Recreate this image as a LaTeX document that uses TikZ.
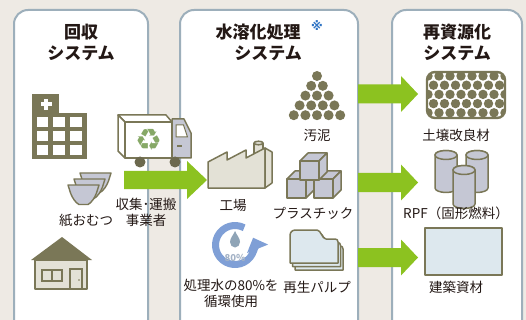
\documentclass[tikz,border=0pt]{standalone}
\usepackage{fontspec}
\setmainfont{Noto Sans CJK JP}
\newfontfamily\symfont{DejaVu Sans}
\usetikzlibrary{arrows.meta}

\definecolor{bg}{HTML}{EEEAE4}
\definecolor{frame}{HTML}{9DAFBB}
\definecolor{olive}{HTML}{7A7757}
\definecolor{wheel}{HTML}{6C694E}
\definecolor{leaf}{HTML}{8CC220}
\definecolor{ink}{HTML}{231815}
\definecolor{steel}{HTML}{C5C7D4}
\definecolor{paper}{HTML}{E3E1D6}
\definecolor{pale}{HTML}{DDE8EE}
\definecolor{ringblue}{HTML}{7F9FD6}
\definecolor{drop}{HTML}{8FA4B6}
\definecolor{pcttext}{HTML}{A3B2C6}
\definecolor{recycle}{HTML}{86A866}
\definecolor{note}{HTML}{2F74C4}

\tikzset{
  panel/.style={draw=frame, line width=2pt, fill=white, rounded corners=14pt},
  title/.style={font=\bfseries\fontsize{17}{21}\selectfont, text=ink, align=center, inner sep=0pt},
  label/.style={font=\fontsize{13.5}{16}\selectfont, text=ink, align=center, inner sep=0pt},
  icon/.style={draw=olive, line width=1.5pt, line join=round},
  flow/.style={fill=leaf},
}

% one stacked paper diaper
\newcommand\diaperat[2]{%
  \begin{scope}[shift={(#1,#2)}]
    \draw[icon, fill=steel, line width=1.4pt] (0,0) -- (31,0) -- (28.5,8)
      .. controls (26.5,13.5) and (23,18) .. (20,19.5) -- (11,19.5)
      .. controls (8,18) and (4.5,13.5) .. (2.5,8) -- cycle;
  \end{scope}}
% one plastic cube
\newcommand\cubeat[2]{%
  \begin{scope}[shift={(#1,#2)}]
    \draw[icon, fill=steel] (0,0) rectangle (19,19);
    \draw[icon, fill=steel] (0,0) -- (8,-8) -- (27,-8) -- (19,0) -- cycle;
    \draw[icon, fill=steel] (19,0) -- (27,-8) -- (27,11) -- (19,19) -- cycle;
  \end{scope}}
% one pulp sheet
\newcommand\sheetat[2]{%
  \begin{scope}[shift={(#1,#2)}]
    \draw[icon, fill=pale] (0,33) -- (0,6) .. controls (0,2) and (2,0) .. (6,0)
      -- (27,0) .. controls (31,0) and (32,9) .. (36,9) -- (45,9)
      .. controls (47,9) and (48,10) .. (48,12) -- (48,33) -- cycle;
  \end{scope}}
% one RPF drum
\newcommand\drumat[3]{%
  \begin{scope}[shift={(#1,#2)}]
    \draw[icon, fill=steel] (-11,0) -- (-11,#3)
      arc[start angle=180, end angle=0, x radius=11, y radius=4.5] -- (11,0)
      arc[start angle=0, end angle=-180, x radius=11, y radius=4.5] -- cycle;
    \draw[icon, fill=steel] (0,0) ellipse (11 and 4.5);
  \end{scope}}

\begin{document}
\begin{tikzpicture}[x=1pt, y=-1pt]
\useasboundingbox (0,0) rectangle (526,320);
\clip (0,0) rectangle (526,320);
\fill[bg] (0,0) rectangle (526,320);

% three system panels
\draw[panel] (14,10) rectangle (148,334);
\draw[panel] (180,10) rectangle (358,334);
\draw[panel] (392,10) rectangle (522,334);

% panel titles
\node[title] (t1) at (81,42.5) {回収\\システム};
\node[title] (t2a) at (258,32) {水溶化処理};
\node[font=\symfont\bfseries\fontsize{12}{12}\selectfont, text=note, inner sep=0pt] (t2n) at (317,26) {※};
\node[title] (t2b) at (268,53) {システム};
\node[title] (t3) at (457,42.5) {再資源化\\システム};

% --- collection ---
% hospital
\fill[olive] (32,94) rectangle (59,114);
\fill[olive] (32,113) rectangle (87,159);
\fill[white] (44,99) rectangle (48,110);
\fill[white] (40.5,102.5) rectangle (51.5,106.5);
\foreach \cx in {36.7,53.3,70}
  \foreach \cy in {117,131,145}
    \fill[white] (\cx,\cy) rectangle ++(11.6,10.4);

% diapers
\diaperat{80}{173}
\diaperat{74}{179}
\diaperat{68}{185}
\node[label] (diaper) at (86,221) {紙おむつ};

% house
\fill[olive] (62,237) -- (92,260) -- (31,260) -- cycle;
\draw[icon, fill=paper] (35,260) rectangle (87,289);
\draw[olive, line width=1.4pt] (42,270) rectangle (62,281) (52,270) -- (52,281);
\draw[olive, line width=1.4pt] (70,269) rectangle (82,289);
\fill[olive] (79,280) circle (0.9);

% flow arrow to the plant
\fill[flow] (124,171) -- (187,171) -- (187,161) -- (207,180) -- (187,199) -- (187,189) -- (124,189) -- cycle;

% truck
\draw[icon, fill=white] (118,115) -- (166,115) -- (172,122) -- (125,122) -- cycle;
\draw[icon, fill=white] (118,115) -- (125,122) -- (125,158) -- (118,151) -- cycle;
\draw[icon, fill=steel] (172,119) -- (184,119) -- (191,133) -- (191,158) -- (172,158) -- cycle;
\draw[olive, line width=1pt, fill=white] (176,125) -- (183.5,125) -- (187.5,137) -- (176,137) -- cycle;
\draw[olive, line width=1.3pt] (177,146) -- (182,146);
\draw[icon, fill=white] (125,122) rectangle (172,158);
\node[text=recycle, font=\symfont\fontsize{30}{30}\selectfont, inner sep=0pt] (recyc) at (148.5,140) {♻};
\fill[wheel] (140,162) circle (5.5);
\fill[wheel] (175,162) circle (5.5);
\node[label] (haul) at (146,212) {収集･運搬\\事業者};

% --- water-soluble treatment ---
% factory
\begin{scope}[shift={(208,140)}]
  \draw[icon, fill=paper] (46,3) -- (46,18) -- (55,18) -- (55,3);
  \draw[icon, fill=paper] (50.5,3) ellipse (4.5 and 1.8);
  \draw[icon, fill=paper] (0,48) -- (0,22) -- (19,12) -- (19,20) -- (38,10) -- (38,18)
    -- (57,8) -- (57,48) -- cycle;
  \draw[icon, fill=paper] (57,8) -- (64,12) -- (64,43) -- (57,48) -- cycle;
\end{scope}
\node[label] (plant) at (233,205) {工場};

% sludge pile
\foreach \r in {0,...,4}
  \foreach \k in {0,...,\r}
    \fill[olive] ({317+(\k-\r/2)*11.6},{76+\r*9.8}) circle (5);
\node[label] (sludge) at (317,135) {汚泥};

% plastic cubes
\cubeat{287}{179}
\cubeat{314}{179}
\cubeat{300}{161}
\node[label] (plastic) at (313,213) {プラスチック};

% recycled pulp
\sheetat{295}{237}
\sheetat{292.5}{233.5}
\sheetat{290}{230}
\node[label] (pulp) at (317,287) {再生パルプ};

% treated water loop
\draw[ringblue, line width=7pt, -{Triangle[width=22pt,length=12pt]}]
  (235,245) ++(-62:19.5) arc[start angle=-62, end angle=-382, radius=19.5];
\fill[drop] (235,231) .. controls (236.5,235) and (240,238) .. (240,242)
  .. controls (240,245) and (237.8,247.5) .. (235,247.5)
  .. controls (232.2,247.5) and (230,245) .. (230,242)
  .. controls (230,238) and (233.5,235) .. (235,231) -- cycle;
\node[font=\bfseries\fontsize{9.5}{9.5}\selectfont, text=pcttext, inner sep=0pt] (pct) at (235,258) {80\%};
\node[label] (water) at (231,293) {処理水の80\%を\\循環使用};

% flow arrows to recycling
\foreach \c in {94,182.5,257.5}
  \fill[flow] (358,{\c-9.5}) -- (401,{\c-9.5}) -- (401,{\c-18}) -- (418,\c)
    -- (401,{\c+18}) -- (401,{\c+9.5}) -- (358,{\c+9.5}) -- cycle;

% --- recycling ---
% soil conditioner block
\begin{scope}
  \clip[rounded corners=8pt] (427,72) rectangle (505,118);
  \fill[white] (427,72) rectangle (505,118);
  \foreach \row in {0,...,4}
    \foreach \col in {0,...,7}
      \fill[olive] ({428+\col*11+mod(\row,2)*5.5},{76+\row*9.2}) circle (4.7);
\end{scope}
\draw[olive, line width=2.4pt, rounded corners=8pt] (427,72) rectangle (505,118);
\node[label] (soil) at (456,135) {土壌改良材};

% RPF drums
\drumat{446}{155}{33}
\drumat{477}{155}{33}
\drumat{464}{170}{34}
\node[label] (rpf) at (456,213) {RPF（固形燃料）};

% building board
\draw[icon, fill=pale] (425,228) rectangle (502,275);
\node[label] (board) at (456,287) {建築資材};
\end{tikzpicture}
\end{document}
